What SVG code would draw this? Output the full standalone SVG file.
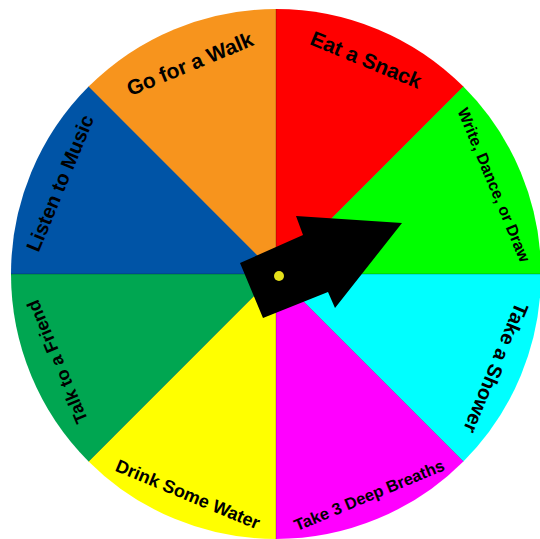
<svg xmlns="http://www.w3.org/2000/svg" width="540" height="539" viewBox="0 0 540 539">
<style>
  .lbl { font-family: "Liberation Sans", Arial, sans-serif; font-weight: bold; fill: #000; text-anchor: middle; }
  .div { stroke: #000; stroke-opacity: 0.3; stroke-width: 0.8; }
</style>
<rect width="540" height="539" fill="#ffffff"/>
<g id="seg-eat">
  <path d="M276,274 L276,9 A265,265 0 0 1 463.38,86.62 Z" fill="#FF0000"/>
  <text class="lbl" font-size="21" transform="translate(366,60) rotate(22.5)" dy="7">Eat a Snack</text>
</g>
<g id="seg-write">
  <path d="M276,274 L463.38,86.62 A265,265 0 0 1 541,274 Z" fill="#00FF00"/>
  <text class="lbl" font-size="16" transform="translate(494,185) rotate(67.5)" dy="5.5">Write, Dance, or Draw</text>
</g>
<g id="seg-shower">
  <path d="M276,274 L541,274 A265,265 0 0 1 463.38,461.38 Z" fill="#00FFFF"/>
  <text class="lbl" font-size="20" transform="translate(496,368) rotate(112.5)" dy="7">Take a Shower</text>
</g>
<g id="seg-breaths">
  <path d="M276,274 L463.38,461.38 A265,265 0 0 1 276,539 Z" fill="#FF00FF"/>
  <text class="lbl" font-size="16.5" transform="translate(369,495) rotate(-22.5)" dy="6">Take 3 Deep Breaths</text>
</g>
<g id="seg-water">
  <path d="M276,274 L276,539 A265,265 0 0 1 88.62,461.38 Z" fill="#FFFF00"/>
  <text class="lbl" font-size="18" transform="translate(188,494) rotate(22.5)" dy="6.5">Drink Some Water</text>
</g>
<g id="seg-friend">
  <path d="M276,274 L88.62,461.38 A265,265 0 0 1 11,274 Z" fill="#00A651"/>
  <text class="lbl" font-size="18" transform="translate(57,362) rotate(-112.5)" dy="6.5">Talk to a Friend</text>
</g>
<g id="seg-music">
  <path d="M276,274 L11,274 A265,265 0 0 1 88.62,86.62 Z" fill="#0054A6"/>
  <text class="lbl" font-size="20" transform="translate(60,183) rotate(-67.5)" dy="7">Listen to Music</text>
</g>
<g id="seg-walk">
  <path d="M276,274 L88.62,86.62 A265,265 0 0 1 276,9 Z" fill="#F7941D"/>
  <text class="lbl" font-size="21" transform="translate(190,64) rotate(-22.5)" dy="7">Go for a Walk</text>
</g>
<g id="dividers">
  <line class="div" x1="276" y1="274" x2="276" y2="9"/>
  <line class="div" x1="276" y1="274" x2="463.38" y2="86.62"/>
  <line class="div" x1="276" y1="274" x2="541" y2="274"/>
  <line class="div" x1="276" y1="274" x2="463.38" y2="461.38"/>
  <line class="div" x1="276" y1="274" x2="276" y2="539"/>
  <line class="div" x1="276" y1="274" x2="88.62" y2="461.38"/>
  <line class="div" x1="276" y1="274" x2="11" y2="274"/>
  <line class="div" x1="276" y1="274" x2="88.62" y2="86.62"/>
</g>
<g id="pointer">
  <polygon points="240,263 303,235 296,216 402,223 335,308 328,292 263,318" fill="#000000"/>
  <circle cx="279" cy="276" r="5" fill="#E5E01A"/>
</g>
</svg>
